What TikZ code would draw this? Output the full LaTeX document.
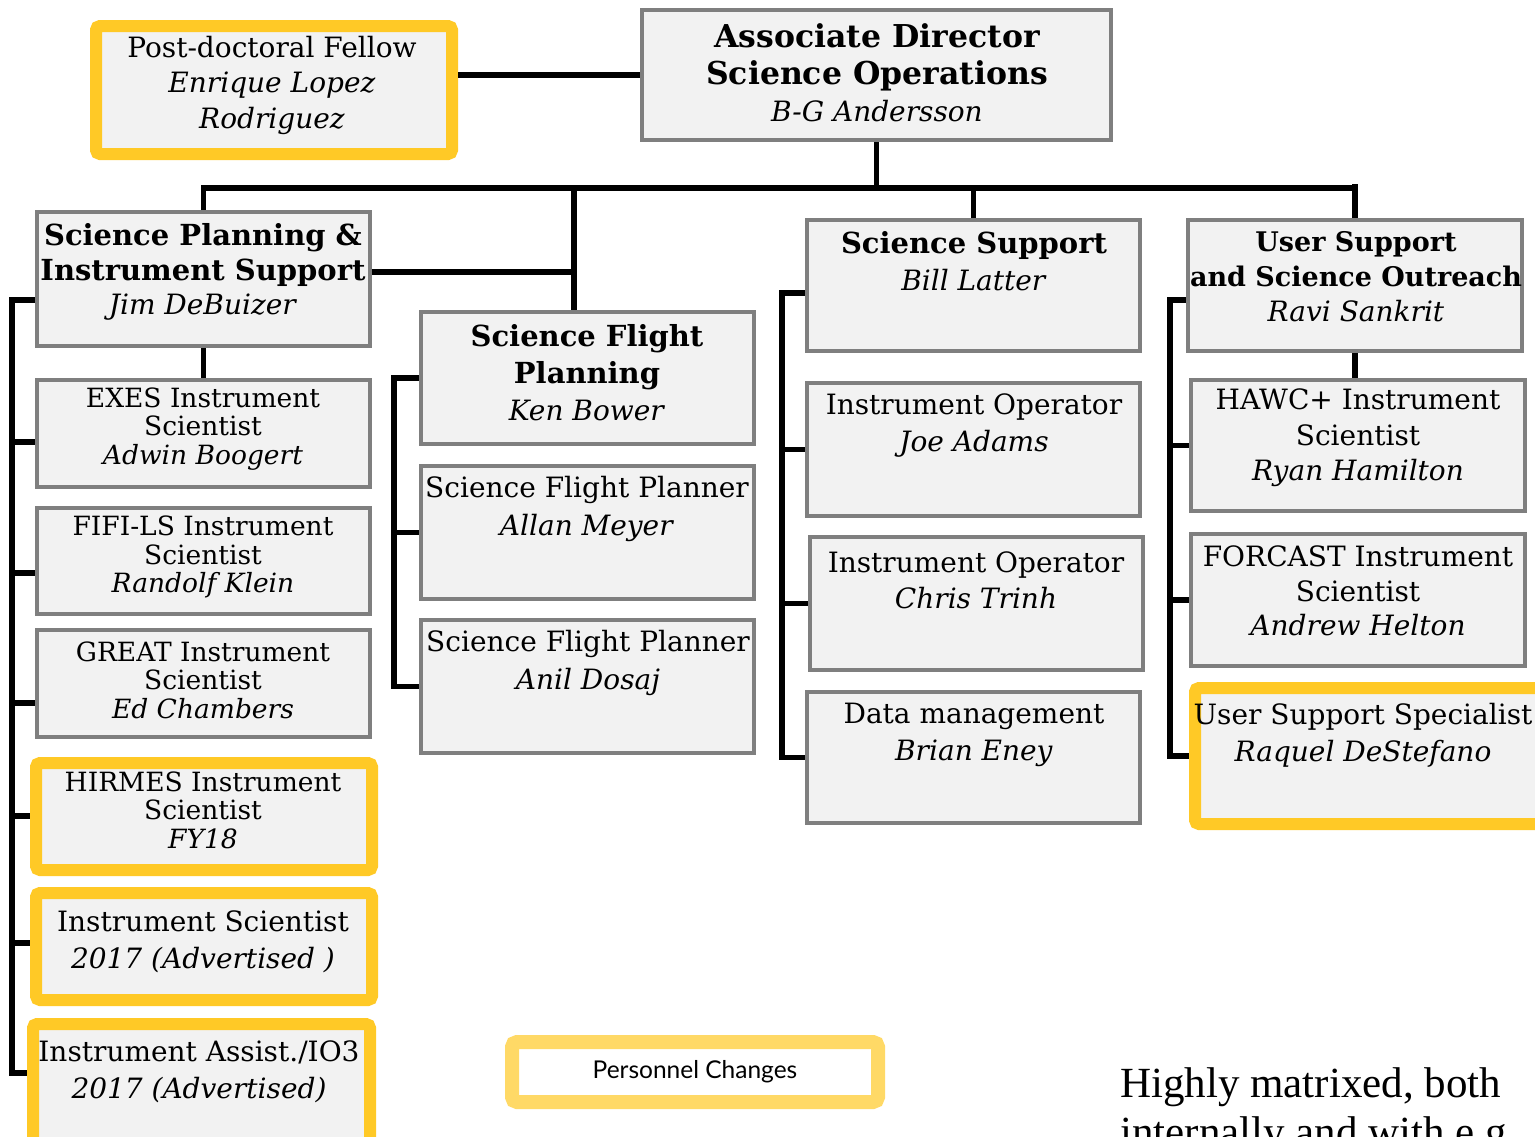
\documentclass[tikz,border=0pt]{standalone}
\usepackage{fontspec}
\setmainfont{DejaVu Serif}
\newfontfamily\legendfont{Lato}
\newfontfamily\notefont{Liberation Serif}
\usetikzlibrary{calc}
\definecolor{boxfill}{HTML}{F2F2F2}
\definecolor{boxgray}{HTML}{7F7F7F}
\definecolor{chg}{HTML}{FFC926}
\definecolor{chglight}{HTML}{FFD966}
\newcommand\hd[2][29]{{\fontsize{#1}{35}\selectfont\bfseries #2}}
\tikzset{
  graybox/.style={draw=boxgray, line width=4pt, fill=boxfill, rectangle, inner sep=0pt},
  yelbox/.style={draw=chg, line width=12pt, fill=boxfill, rectangle, rounded corners=4pt, inner sep=0pt},
  legbox/.style={draw=chglight, line width=14pt, fill=white, rectangle, rounded corners=5pt, inner sep=0pt},
  conn/.style={line width=5.5pt, black},
  txt/.style={align=center, inner sep=0pt, font=\fontsize{28}{35.5}\selectfont},
  txtt/.style={align=center, inner sep=0pt, font=\fontsize{26.5}{28.5}\selectfont},
}
\newcommand\orgbox[6]{%
  \pgfmathsetmacro\bw{#5-#3}\pgfmathsetmacro\bh{#6-#4}%
  \node[#1, minimum width=\bw pt, minimum height=\bh pt] (#2) at ({(#3+#5)/2},{(#4+#6)/2}) {};}
\begin{document}
\begin{tikzpicture}[x=1pt,y=-1pt]
\clip (0,0) rectangle (1535,1136);
\fill[white] (0,0) rectangle (1535,1136);
% boxes
\orgbox{yelbox}{pd}{96}{26}{452}{154}
\orgbox{graybox}{ad}{642}{10}{1111}{140}
\orgbox{graybox}{spis}{37}{212}{370}{346}
\orgbox{graybox}{exes}{37}{380}{370}{487}
\orgbox{graybox}{fifi}{37}{508}{370}{614}
\orgbox{graybox}{great}{37}{630}{370}{737}
\orgbox{yelbox}{hirmes}{36}{763}{372}{870}
\orgbox{yelbox}{instsci}{36}{893}{372}{1000}
\orgbox{yelbox}{assist}{33}{1024}{370}{1145}
\orgbox{graybox}{sfp}{421}{312}{754}{444}
\orgbox{graybox}{allan}{421}{466}{754}{599}
\orgbox{graybox}{anil}{421}{620}{754}{753}
\orgbox{graybox}{ss}{807}{220}{1140}{351}
\orgbox{graybox}{joe}{807}{383}{1140}{516}
\orgbox{graybox}{chris}{810}{537}{1143}{670}
\orgbox{graybox}{brian}{807}{692}{1140}{823}
\orgbox{graybox}{usso}{1188}{220}{1522}{351}
\orgbox{graybox}{hawc}{1191}{380}{1525}{511}
\orgbox{graybox}{forcast}{1191}{534}{1525}{666}
\orgbox{yelbox}{usspec}{1195}{688}{1545}{824}
\orgbox{legbox}{legend}{512}{1042}{878}{1102}
% connectors
\coordinate (busL) at (203.5,188);
\coordinate (busR) at (1355,188);
\coordinate (sfpd) at (574,188);
\draw[conn] (pd.east |- ad.west) -- (ad.west);
\draw[conn] (ad.south) -- (ad.south |- busL);
\draw[conn] (spis.north) -- (busL) -- (busR);
\draw[conn] (usso.north) -- ($(busR)+(0,-4)$);
\draw[conn] (ss.north) -- (ss.north |- busL);
\draw[conn] (sfpd) -- (sfpd |- sfp.north);
\draw[conn] (spis.east |- 0,272) -- (sfpd |- 0,272);
\draw[conn] (spis.south) -- (exes.north);
\draw[conn] (usso.south) -- (usso.south |- hawc.north);
% left bracket
\coordinate (lT) at (12,300);
\coordinate (lB) at (12,1073);
\draw[conn] (spis.west |- lT) -- (lT) -- (lB) -- (assist.west |- lB);
\foreach \n/\yy in {exes/442, fifi/573, great/703, hirmes/816, instsci/943}
  \draw[conn] (lT |- 0,\yy) -- (\n.west |- 0,\yy);
% flight planning bracket
\coordinate (m1) at (394,0);
\draw[conn] (sfp.west) -- (sfp.west -| m1) -- (anil.west -| m1) -- (anil.west);
\draw[conn] (allan.west -| m1) -- (allan.west);
% science support bracket
\coordinate (s1) at (782,293);
\draw[conn] (ss.west |- s1) -- (s1) -- (s1 |- brian.west) -- (brian.west);
\draw[conn] (s1 |- joe.west) -- (joe.west);
\draw[conn] (s1 |- chris.west) -- (chris.west);
% user support bracket
\coordinate (u1) at (1170,300);
\draw[conn] (usso.west |- u1) -- (u1) -- (u1 |- usspec.west) -- (usspec.west);
\draw[conn] (u1 |- hawc.west) -- (hawc.west);
\draw[conn] (u1 |- forcast.west) -- (forcast.west);
% texts
\node[txt] (t-pd) at (272,85) {Post-doctoral Fellow\\\textit{Enrique Lopez}\\\textit{Rodriguez}};
\node[txt, font=\fontsize{28}{37}\selectfont] (t-ad) at (877,73) {\hd[31.5]{Associate Director}\\\hd[31.5]{Science Operations}\\\textit{B-G Andersson}};
\node[txt, font=\fontsize{28}{34.5}\selectfont] (t-spis) at (203,272) {\hd{Science Planning \&}\\\hd{Instrument Support}\\\textit{Jim DeBuizer}};
\node[txtt] (t-exes) at (203,429) {EXES Instrument\\Scientist\\\textit{Adwin Boogert}};
\node[txtt] (t-fifi) at (203,557) {FIFI-LS Instrument\\Scientist\\\textit{Randolf Klein}};
\node[txtt] (t-great) at (203,680) {GREAT Instrument\\Scientist\\\textit{Ed Chambers}};
\node[txtt] (t-hirmes) at (203,810) {HIRMES Instrument\\Scientist\\\textit{FY18}};
\node[txt, font=\fontsize{28}{37}\selectfont] (t-instsci) at (203,942) {Instrument Scientist\\\textit{2017 (Advertised )}};
\node[txt, font=\fontsize{28}{37}\selectfont] (t-assist) at (199,1072) {Instrument Assist./IO3\\\textit{2017 (Advertised)}};
\node[txt, font=\fontsize{28}{37}\selectfont] (t-sfp) at (587,373) {\hd{Science Flight}\\\hd{Planning}\\\textit{Ken Bower}};
\node[txt, font=\fontsize{28}{38}\selectfont] (t-allan) at (587,509) {Science Flight Planner\\\textit{Allan Meyer}};
\node[txt, font=\fontsize{28}{38}\selectfont] (t-anil) at (588,663) {Science Flight Planner\\\textit{Anil Dosaj}};
\node[txt, font=\fontsize{28}{37}\selectfont] (t-ss) at (974,261) {\hd{Science Support}\\\textit{Bill Latter}};
\node[txt, font=\fontsize{28}{37}\selectfont] (t-joe) at (974,426) {Instrument Operator\\\textit{Joe Adams}};
\node[txt, font=\fontsize{28}{36}\selectfont] (t-chris) at (976,580) {Instrument Operator\\\textit{Chris Trinh}};
\node[txt, font=\fontsize{28}{37}\selectfont] (t-brian) at (974,735) {Data management\\\textit{Brian Eney}};
\node[txt, font=\fontsize{28}{35}\selectfont] (t-usso) at (1356,277) {\hd[27]{User Support}\\\hd[27]{and Science Outreach}\\\textit{Ravi Sankrit}};
\node[txt] (t-hawc) at (1358,438) {HAWC+ Instrument\\Scientist\\\textit{Ryan Hamilton}};
\node[txt, font=\fontsize{28}{34.5}\selectfont] (t-forcast) at (1358,591) {FORCAST Instrument\\Scientist\\\textit{Andrew Helton}};
\node[txt, font=\fontsize{28}{37}\selectfont] (t-usspec) at (1363,735) {User Support Specialist\\\textit{Raquel DeStefano}};
\node[inner sep=0pt, font=\legendfont\fontsize{24.5}{28}\selectfont] (t-legend) at (legend.center) {Personnel Changes};
\node[anchor=base west, inner sep=0pt, font=\notefont\fontsize{43}{50}\selectfont] (note1) at (1120,1097) {Highly matrixed, both};
\node[anchor=base west, inner sep=0pt, font=\notefont\fontsize{43}{50}\selectfont] (note2) at (1120,1146) {internally and with e.g.};
\end{tikzpicture}
\end{document}
